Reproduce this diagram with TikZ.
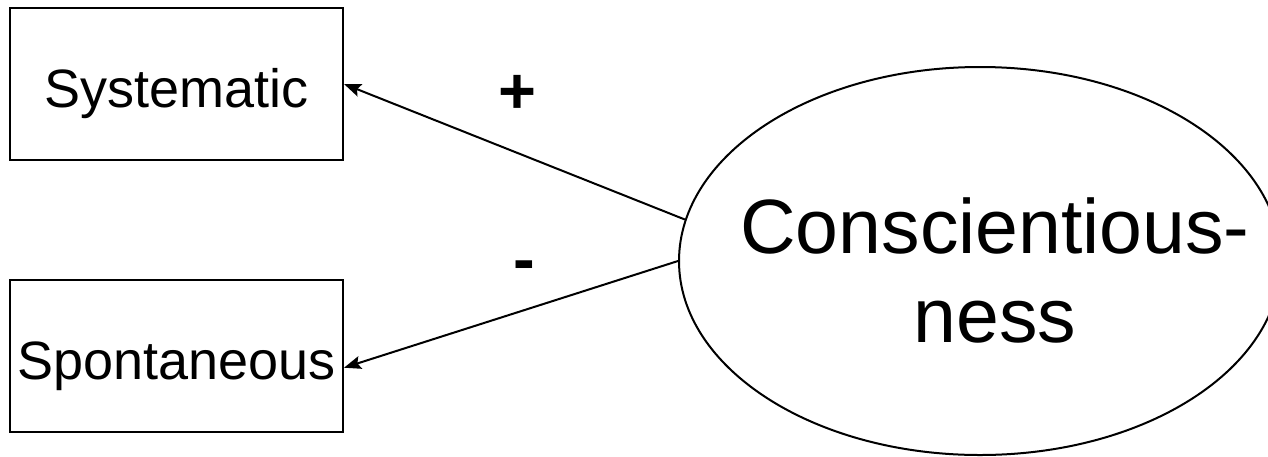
\documentclass[tikz,border=0pt]{standalone}
\usepackage{fontspec}
\setmainfont{Liberation Sans}
\usetikzlibrary{arrows.meta,positioning,shapes.geometric}

\begin{document}
\begin{tikzpicture}[x=0.5pt,y=-0.5pt,line width=1pt,
    >={Stealth[length=8.5pt,width=6.5pt,inset=1.5pt]},
    item/.style={draw,rectangle,minimum width=166.5pt,minimum height=76pt,inner sep=0pt,
      font=\fontsize{27pt}{32pt}\selectfont,text height=23.2pt,text depth=0pt},
    factor/.style={draw,ellipse,minimum width=301pt,minimum height=194pt,inner sep=0pt},
    sign/.style={font=\fontsize{32.5pt}{39pt}\selectfont\bfseries,anchor=base}]
    \useasboundingbox (0,0) rectangle (1268,456);

    \node[item] (sys) at (176.5,84) {Systematic};
    \node[item,below=59pt of sys] (spon) {Spontaneous};
    \node[factor] (cons) at (980,261) {};
    \node[align=center,font=\fontsize{38.5pt}{44.5pt}\selectfont] (consname) at (995,270)
        {Conscientious-\\ness};

    \node[sign] (plus) at (517,113) {+};
    \node[sign] (minus) at (524,281) {-};

    \path[->]
        (cons.172) edge (sys.east)
        (cons.west) edge (spon.-4);
\end{tikzpicture}
\end{document}
